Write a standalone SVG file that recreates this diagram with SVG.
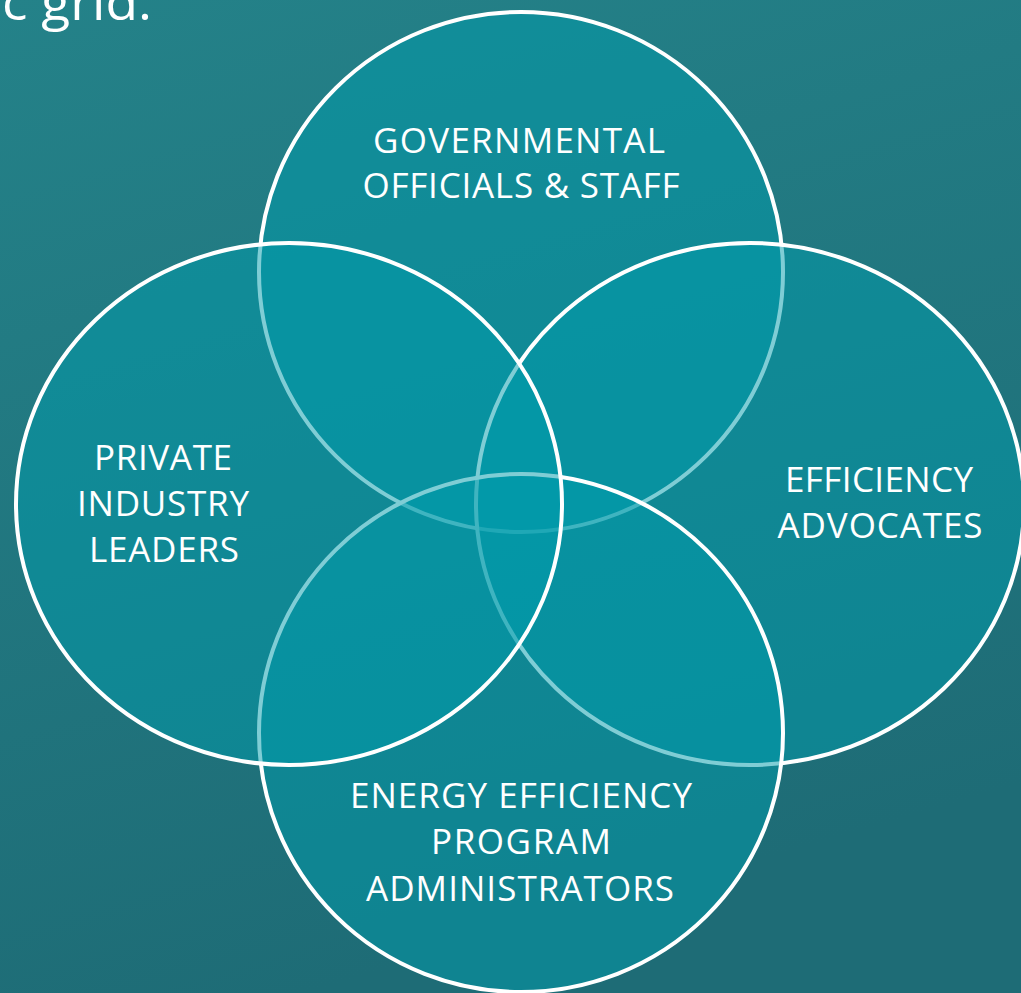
<svg xmlns="http://www.w3.org/2000/svg" width="1021" height="993" viewBox="0 0 1021 993">
  <defs>
    <linearGradient id="bg" x1="0" y1="0" x2="0.3" y2="1">
      <stop offset="0" stop-color="#248289"/>
      <stop offset="1" stop-color="#1e6c76"/>
    </linearGradient>
    <style>
      .circle { fill: rgba(0,156,172,0.5); stroke: #ffffff; stroke-width: 4; }
      .label { font-family: "Open Sans", "Liberation Sans", sans-serif; font-size: 35px; fill: #ffffff; text-anchor: middle; }
      .title { font-family: "Open Sans", "Liberation Sans", sans-serif; font-size: 50px; fill: #ffffff; }
    </style>
  </defs>
  <rect x="0" y="0" width="1021" height="993" fill="url(#bg)"/>
  <text class="title" x="2" y="20" textLength="150" lengthAdjust="spacingAndGlyphs">c grid.</text>

  <g id="connectors"></g>

  <g id="node-governmental">
    <ellipse class="circle" cx="521" cy="272" rx="262" ry="260"/>
  </g>
  <g id="node-efficiency-advocates">
    <ellipse class="circle" cx="750" cy="504" rx="274" ry="261"/>
  </g>
  <g id="node-program-administrators">
    <ellipse class="circle" cx="521" cy="733" rx="262" ry="259"/>
  </g>
  <g id="node-private-industry">
    <ellipse class="circle" cx="289" cy="504" rx="273" ry="261"/>
  </g>

  <g id="labels">
    <text class="label" x="519" y="153" textLength="292">GOVERNMENTAL</text>
    <text class="label" x="521" y="198" textLength="317">OFFICIALS &amp; STAFF</text>

    <text class="label" x="879" y="492" textLength="188">EFFICIENCY</text>
    <text class="label" x="880" y="538" textLength="205">ADVOCATES</text>

    <text class="label" x="163" y="470" textLength="138">PRIVATE</text>
    <text class="label" x="163" y="516" textLength="172">INDUSTRY</text>
    <text class="label" x="164" y="562" textLength="150">LEADERS</text>

    <text class="label" x="521" y="808" textLength="342">ENERGY EFFICIENCY</text>
    <text class="label" x="521" y="854" textLength="180">PROGRAM</text>
    <text class="label" x="520" y="901" textLength="308">ADMINISTRATORS</text>
  </g>
</svg>
